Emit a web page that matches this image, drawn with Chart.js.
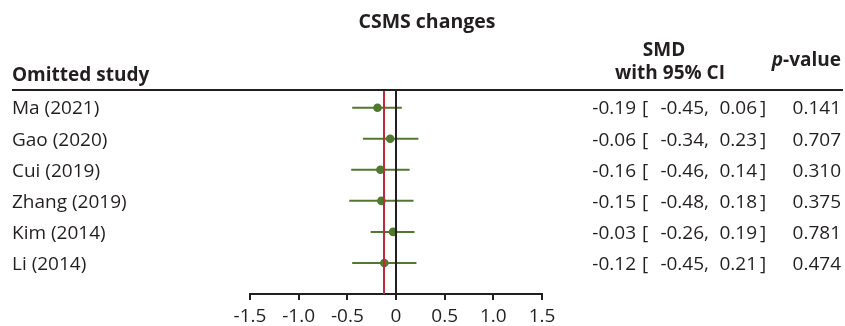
<!DOCTYPE html>
<html>
<head>
<meta charset="utf-8">
<script src="https://cdn.jsdelivr.net/npm/chart.js@4.4.1/dist/chart.umd.min.js"></script>
<style>
  html, body { margin: 0; padding: 0; background: #ffffff; }
  #wrap { width: 845px; height: 326px; position: relative; }
</style>
</head>
<body>
<div id="wrap"><canvas id="forest" width="845" height="326"></canvas></div>
<script>
// Leave-one-out sensitivity analysis for CSMS changes
const studies  = ['Ma (2021)', 'Gao (2020)', 'Cui (2019)', 'Zhang (2019)', 'Kim (2014)', 'Li (2014)'];
const smd      = [-0.19, -0.06, -0.16, -0.15, -0.03, -0.12];
const ciLow    = [-0.45, -0.34, -0.46, -0.48, -0.26, -0.45];
const ciHigh   = [ 0.06,  0.23,  0.14,  0.18,  0.19,  0.21];
const pValues  = [0.141, 0.707, 0.310, 0.375, 0.781, 0.474];
const pooledSmd = -0.12;
const xTicks   = [-1.5, -1.0, -0.5, 0, 0.5, 1.0, 1.5];

const GREEN = '#50782f';
const RED   = '#be2a3c';
const INK   = '#231f20';
const FONT  = '"Open Sans", "DejaVu Sans", sans-serif';
const REG   = '19px ' + FONT;
const BOLD  = 'bold 19px ' + FONT;

// one short line dataset per confidence interval
const ciSets = studies.map((s, i) => ({
  type: 'line',
  label: s + ' CI',
  data: [{ x: ciLow[i], y: i }, { x: ciHigh[i], y: i }],
  borderColor: GREEN,
  borderWidth: 2,
  pointRadius: 0,
  fill: false,
  order: 2
}));

const pointSet = {
  type: 'scatter',
  label: 'SMD',
  data: smd.map((v, i) => ({ x: v, y: i })),
  backgroundColor: GREEN,
  borderWidth: 0,
  pointRadius: 4.3,
  order: 1
};

function fmt2(v) { return v.toFixed(2); }

const forestText = {
  id: 'forestText',
  afterDatasetsDraw(chart) {
    const { ctx, chartArea, scales } = chart;
    const x = scales.x;
    // null line and pooled-estimate line
    ctx.save();
    ctx.lineWidth = 2;
    ctx.strokeStyle = RED;
    const px = Math.round(x.getPixelForValue(pooledSmd));
    ctx.beginPath(); ctx.moveTo(px, chartArea.top); ctx.lineTo(px, chartArea.bottom); ctx.stroke();
    ctx.strokeStyle = INK;
    const zx = Math.round(x.getPixelForValue(0));
    ctx.beginPath(); ctx.moveTo(zx, chartArea.top); ctx.lineTo(zx, chartArea.bottom); ctx.stroke();
    ctx.restore();
  },
  afterDraw(chart) {
    const { ctx, chartArea, scales } = chart;
    const y = scales.y;
    ctx.save();
    ctx.fillStyle = INK;
    ctx.textBaseline = 'alphabetic';

    // headings
    ctx.font = 'bold 19.5px ' + FONT;
    ctx.textAlign = 'center';
    ctx.fillText('CSMS changes', 427, 28);
    ctx.font = BOLD;
    ctx.fillText('SMD', 664, 56);
    ctx.fillText('with 95% CI', 670, 79);
    ctx.textAlign = 'left';
    ctx.fillText('Omitted study', 12, 81);
    // p-value heading: italic p
    ctx.textAlign = 'right';
    const valW = ctx.measureText('-value').width;
    ctx.fillText('-value', 841, 66);
    ctx.font = 'italic ' + BOLD;
    ctx.fillText('p', 841 - valW, 66);

    // rule under the headings
    ctx.strokeStyle = INK;
    ctx.lineWidth = 2;
    ctx.beginPath(); ctx.moveTo(12, chartArea.top); ctx.lineTo(843, chartArea.top); ctx.stroke();

    // rows
    ctx.font = REG;
    studies.forEach((s, i) => {
      const base = y.getPixelForValue(i) + 6.8;
      ctx.textAlign = 'left';
      ctx.fillText(s, 12, base);
      ctx.textAlign = 'right';
      ctx.fillText(fmt2(smd[i]), 636, base);
      ctx.textAlign = 'left';
      ctx.fillText('[', 642, base);
      ctx.textAlign = 'right';
      ctx.fillText(fmt2(ciLow[i]) + ',', 709, base);
      ctx.fillText(fmt2(ciHigh[i]), 757, base);
      ctx.textAlign = 'left';
      ctx.fillText(']', 760, base);
      ctx.textAlign = 'right';
      ctx.fillText(pValues[i].toFixed(3), 841, base);
    });
    ctx.restore();
  }
};

new Chart(document.getElementById('forest'), {
  data: { datasets: [...ciSets, pointSet] },
  options: {
    responsive: false,
    animation: false,
    devicePixelRatio: 1,
    layout: { padding: { left: 250, right: 303, top: 90, bottom: 0 } },
    plugins: { legend: { display: false }, tooltip: { enabled: false }, title: { display: false } },
    scales: {
      x: {
        type: 'linear',
        position: 'bottom',
        min: -1.5,
        max: 1.5,
        afterBuildTicks(scale) { scale.ticks = xTicks.map(v => ({ value: v })); },
        afterFit(scale) { scale.height = 32; },
        border: { display: true, color: INK, width: 2 },
        grid: { drawOnChartArea: false, drawTicks: true, tickLength: 6, color: INK, lineWidth: 2 },
        ticks: {
          color: INK,
          padding: 5,
          font: { family: FONT, size: 19 },
          maxRotation: 0,
          autoSkip: false,
          callback(v) { return v === 0 ? '0' : v.toFixed(1); }
        }
      },
      y: {
        type: 'linear',
        display: false,
        reverse: true,
        min: -0.57,
        max: 6.0
      }
    }
  },
  plugins: [forestText]
});
</script>
</body>
</html>
